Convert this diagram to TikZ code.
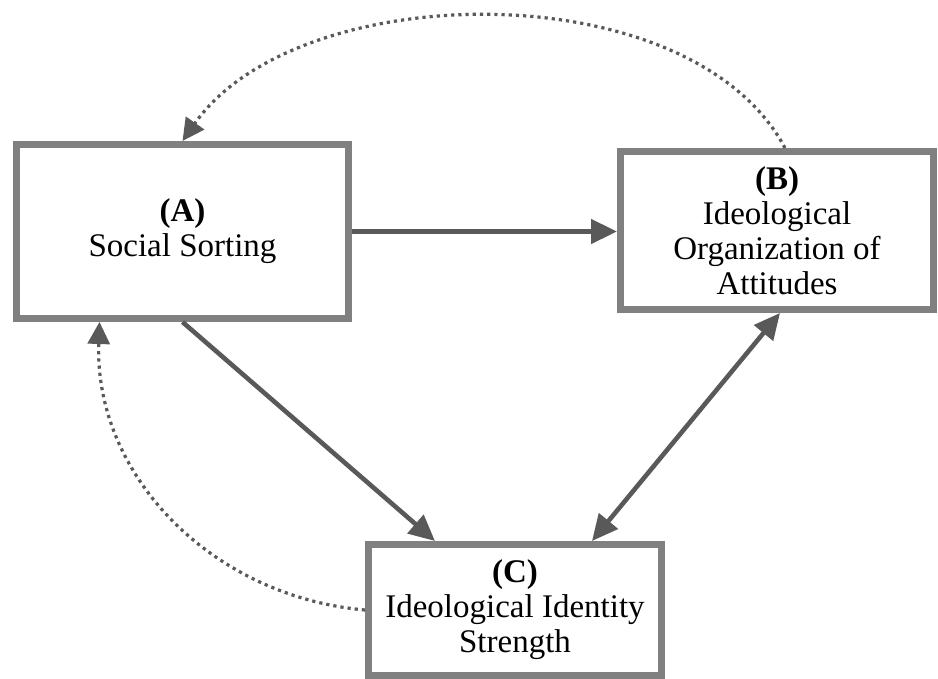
\documentclass[tikz,border=0pt]{standalone}
\usepackage{fontspec}
\setmainfont{Liberation Serif}
\usetikzlibrary{positioning, calc, arrows.meta}
\definecolor{boxgray}{HTML}{808080}
\definecolor{arrowgray}{HTML}{595959}
\tikzstyle{Arrow} = [
    line width = 2.3pt,
    draw = arrowgray,
    >={Triangle[length=13pt, width=12pt]},
    ->
]
\tikzstyle{Loop} = [
    line width = 1.6pt,
    draw = arrowgray,
    dash pattern = on 1.6pt off 2pt,
    >={Triangle[length=11pt, width=11pt]},
    ->
]
\begin{document}
\begin{tikzpicture}[
x=0.5pt, y=-0.5pt,
box/.style={
    rectangle,
    draw = boxgray,
    line width = 3.5pt,
    fill = white,
    align = center,
    inner sep = 0pt,
    font = \fontsize{16.5}{17.5}\selectfont
    }
]
\useasboundingbox (0,0) rectangle (938,679);

\node [box, minimum width=166pt, minimum height=87pt] (1) at (182.5,231.5) {
    \textbf{(A)}\\Social Sorting
};
\node [box, minimum width=156.5pt, minimum height=79pt] (2) at (777,230.5) {
    \textbf{(B)}\\Ideological\\Organization of\\Attitudes
};
\node [box, minimum width=146.5pt, minimum height=65.5pt] (3) at (515,610) {
    \textbf{(C)}\\Ideological Identity\\Strength
};

\draw[Arrow] (1.east) -- (1.east -| 2.west);
\draw[Arrow] (1.south) -- ([xshift=-40pt]3.north);
\draw[Arrow, <->] ([xshift=1.5pt]2.south) -- ([xshift=38.5pt]3.north);

\draw[Loop] ([xshift=4pt]2.north) to [out=118, in=55, looseness=0.85] (1.north);
\draw[Loop] (3.west) to [out=175, in=-92] ([xshift=-41.5pt]1.south);

\end{tikzpicture}
\end{document}
